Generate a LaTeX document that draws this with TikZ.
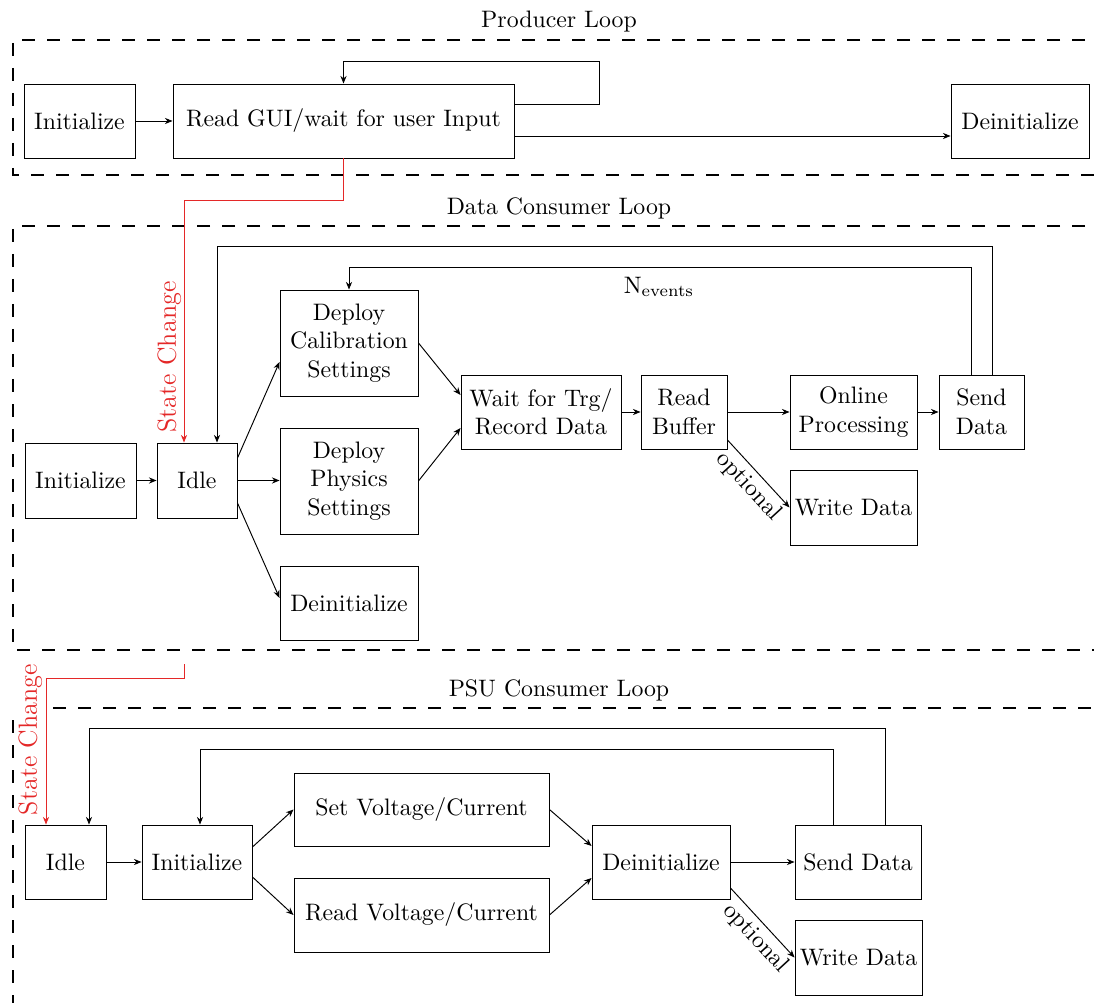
\documentclass[tikz,border=0pt]{standalone}
\usetikzlibrary{arrows.meta,calc}
\definecolor{scred}{RGB}{228,40,40}
\begin{document}
\begin{tikzpicture}[x=0.42pt,y=-0.42pt,
  box/.style 2 args={draw, line width=0.4pt, align=center, inner sep=1pt,
    minimum width={#1*0.42pt}, minimum height={#2*0.42pt}},
  arr/.style={line width=0.4pt, -{Stealth[length=3.2pt,width=2.6pt]}},
  frame/.style={line width=1.1pt, dash pattern=on 5.4pt off 5.1pt},
  scline/.style={scred, line width=0.4pt, -{Stealth[length=3.2pt,width=2.6pt]}},
  sclabel/.style={text=scred, font=\fontsize{11}{13}\selectfont, rotate=90, anchor=south, inner sep=1pt},
  title/.style={inner sep=1pt},
  opt/.style={sloped, below, inner sep=2pt}
]
\useasboundingbox (0,0) rectangle (1094,1003);
\clip (0,0) rectangle (1094,1003);

% ---------- frames ----------
\draw[frame] (1110,40) -- (13,40) -- (13,175) -- (1110,175);
\draw[frame] (1110,226) -- (13,226) -- (13,650) -- (1110,650);
\draw[frame] (53,708) -- (1110,708);
\draw[frame] (13,720) -- (13,1010);

\node[title] (tprod) at (559,22) {Producer Loop};
\node[title] (tdata) at (559,208) {Data Consumer Loop};
\node[title] (tpsu)  at (559,690) {PSU Consumer Loop};

% ---------- producer loop ----------
\node[box={111}{74}] (prinit) at (79.5,121) {Initialize};
\node[box={341}{74}] (gui) at (343.5,121) {Read GUI/wait for user Input};
\node[box={138}{74}] (prdeinit) at (1020,121) {Deinitialize};

\draw[arr] (prinit.east) -- (gui.west);
\draw[arr] ($(gui.east)+(0,15)$) -- ($(prdeinit.west)+(0,15)$);
\draw[arr] ($(gui.east)+(0,-17)$) -- ++(85,0) |- ($(gui.north)+(0,-22)$) -- (gui.north);

% ---------- data consumer loop ----------
\node[box={111}{75}] (dinit) at (80.5,480.5) {Initialize};
\node[box={80}{75}] (didle) at (197,480.5) {Idle};
\node[box={138}{106}] (calib) at (349,343) {Deploy\\Calibration\\Settings};
\node[box={138}{106}] (phys) at (349,481) {Deploy\\Physics\\Settings};
\node[box={138}{74}] (ddeinit) at (349,603) {Deinitialize};
\node[box={160}{74}] (wait) at (541,412) {Wait for Trg/\\Record Data};
\node[box={86}{74}] (rbuf) at (684,412) {Read\\Buffer};
\node[box={127}{74}] (online) at (853.5,412) {Online\\Processing};
\node[box={85}{74}] (dsend) at (981.5,412) {Send\\Data};
\node[box={127}{75}] (dwrite) at (853.5,507.5) {Write Data};

\draw[arr] (dinit.east) -- (didle.west);
\draw[arr] ($(didle.east)+(0,-22.5)$) -- ($(calib.west)+(0,19)$);
\draw[arr] (didle.east) -- (phys.west |- didle.east);
\draw[arr] ($(didle.east)+(0,22.5)$) -- ($(ddeinit.west)+(0,-5)$);
\draw[arr] (calib.east) -- ($(wait.west)+(0,-17)$);
\draw[arr] (phys.east) -- ($(wait.west)+(0,16)$);
\draw[arr] (wait.east) -- (rbuf.west);
\draw[arr] (rbuf.east) -- (online.west);
\draw[arr] (online.east) -- (dsend.west);
\draw[arr] ($(rbuf.east)+(0,28)$) -- node[opt, pos=0.53] {optional} (dwrite.west);

\coordinate (nloop) at ($(dsend.north)+(-10.5,-107)$);
\coordinate (oloop) at ($(dsend.north)+(10.5,-128)$);
\draw[arr] ($(dsend.north)+(-10.5,0)$) -- (nloop) -| (calib.north);
\draw[arr] ($(dsend.north)+(10.5,0)$) -- (oloop) -| ($(didle.north)+(20,0)$);
\node (nev) at (659,287) {N$_\mathrm{events}$};

% state change 1
\coordinate (sc1) at ($(didle.north)+(-13,0)$);
\draw[scline] (gui.south) -- ++(0,42) -| (sc1);
\node[sclabel] (sclab1) at (184,357) {State Change};

% ---------- PSU consumer loop ----------
\node[box={81}{74}] (pidle) at (65.5,862) {Idle};
\node[box={110}{74}] (pinit) at (197,862) {Initialize};
\node[box={255}{73}] (pset) at (421.5,809.5) {Set Voltage/Current};
\node[box={255}{74}] (pread) at (421.5,915) {Read Voltage/Current};
\node[box={138}{74}] (pdeinit) at (661,862) {Deinitialize};
\node[box={126}{74}] (psend) at (858,862) {Send Data};
\node[box={127}{75}] (pwrite) at (858.5,957.5) {Write Data};

\draw[arr] (pidle.east) -- (pinit.west);
\draw[arr] ($(pinit.east)+(0,-15)$) -- (pset.west);
\draw[arr] ($(pinit.east)+(0,15)$) -- (pread.west);
\draw[arr] (pset.east) -- ($(pdeinit.west)+(0,-16)$);
\draw[arr] (pread.east) -- ($(pdeinit.west)+(0,16)$);
\draw[arr] (pdeinit.east) -- (psend.west);
\draw[arr] ($(pdeinit.east)+(0,26)$) -- node[opt, pos=0.57] {optional} (pwrite.west);

\coordinate (ploopi) at ($(psend.north)+(-25,-75)$);
\coordinate (ploopo) at ($(psend.north)+(27,-96)$);
\draw[arr] ($(psend.north)+(-25,0)$) -- (ploopi) -| ($(pinit.north)+(3,0)$);
\draw[arr] ($(psend.north)+(27,0)$) -- (ploopo) -| ($(pidle.north)+(23.5,0)$);

% state change 2
\coordinate (sc2start) at (184,664);
\coordinate (sc2) at ($(pidle.north)+(-19.5,0)$);
\draw[scline] (sc2start) -- ++(0,14) -| (sc2);
\node[sclabel] (sclab2) at (45,739.5) {State Change};
\end{tikzpicture}
\end{document}
